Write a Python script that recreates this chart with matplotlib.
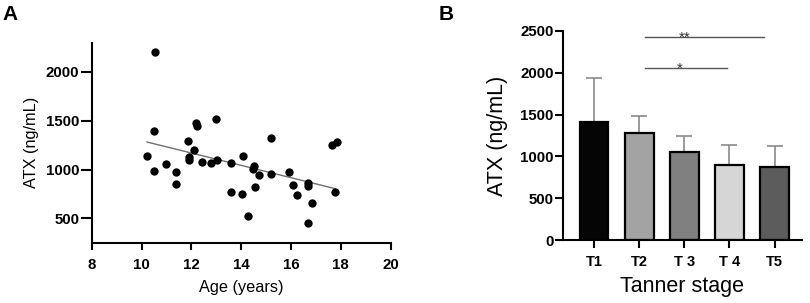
import numpy as np
import matplotlib
matplotlib.use("Agg")
import matplotlib.pyplot as plt

plt.rcParams['font.family'] = ['Liberation Sans', 'DejaVu Sans']

# Panel A data: age (years) vs ATX (ng/mL)
age = [10.56, 10.50, 10.22, 10.50, 11.00, 11.37, 11.38, 11.88, 11.90, 11.92,
       12.09, 12.19, 12.21, 12.41, 13.00, 12.80, 13.02, 13.58, 13.58, 14.03,
       14.07, 14.26, 14.46, 14.53, 14.55, 14.73, 15.18, 15.18, 15.91, 16.09,
       16.24, 16.70, 16.70, 16.86, 16.70, 17.63, 17.83, 17.78]
atx = [2200, 1390, 1140, 980, 1060, 970, 855, 1295, 1100, 1133,
       1200, 1481, 1446, 1077, 1515, 1068, 1095, 1071, 773, 745,
       1143, 520, 1002, 1040, 821, 944, 1323, 958, 972, 838,
       736, 866, 832, 661, 452, 1255, 1283, 770]
fit_x = [10.22, 17.77]
fit_y = [1282, 804]

# Panel B data
stages = ["T1", "T2", "T 3", "T 4", "T5"]
means = [1415, 1276, 1049, 901, 877]
sds = [527, 211, 191, 235, 251]
bar_colors = ["#050505", "#a3a3a3", "#808080", "#d6d6d6", "#5c5c5c"]

fig = plt.figure(figsize=(8.10, 3.03), dpi=100)

# ---------- Panel A ----------
axA = fig.add_axes([91.7/810, 1-242.7/303, (390.7-91.7)/810, (242.7-42.7)/303])
axA.scatter(age, atx, s=36, color="black", zorder=3, linewidths=0)
axA.plot(fit_x, fit_y, color="#707070", lw=1.0, zorder=2)
axA.set_xlim(8, 20)
axA.set_ylim(250, 2300)
axA.set_xticks([8, 10, 12, 14, 16, 18, 20])
axA.set_yticks([500, 1000, 1500, 2000])
for s in ["top", "right"]:
    axA.spines[s].set_visible(False)
for s in ["left", "bottom"]:
    axA.spines[s].set_linewidth(1.5)
axA.tick_params(axis="x", length=5, width=1.5, pad=6, labelsize=10.8)
axA.tick_params(axis="y", length=8, width=1.5, pad=1, labelsize=10.8)
for lab in axA.get_xticklabels() + axA.get_yticklabels():
    lab.set_fontweight("bold")
axA.set_xlabel("Age (years)", fontsize=11.7, labelpad=6)
axA.set_ylabel("ATX (ng/mL)", fontsize=11.7, labelpad=5)

# ---------- Panel B ----------
axB = fig.add_axes([563.3/810, 1-240/303, (801.7-563.3)/810, (240-31)/303])
xpos = np.arange(len(stages))
axB.bar(xpos, means, width=0.64, color=bar_colors, edgecolor="black",
        linewidth=1.6, zorder=2)
axB.errorbar(xpos, means, yerr=[[0]*len(sds), sds], fmt="none",
             ecolor="#8a8a8a", elinewidth=1.2, capsize=5.5, capthick=1.2, zorder=1)
axB.set_xlim(-0.68, 4.6)
axB.set_ylim(0, 2500)
axB.set_xticks(xpos)
axB.set_xticklabels(stages)
axB.set_yticks([0, 500, 1000, 1500, 2000, 2500])
for s in ["top", "right"]:
    axB.spines[s].set_visible(False)
for s in ["left", "bottom"]:
    axB.spines[s].set_linewidth(1.5)
axB.tick_params(axis="x", length=6, width=1.5, pad=5, labelsize=10.5)
axB.tick_params(axis="y", length=6, width=1.5, pad=1, labelsize=10.8)
for lab in axB.get_xticklabels() + axB.get_yticklabels():
    lab.set_fontweight("bold")
axB.set_xlabel("Tanner stage", fontsize=15.5, labelpad=5)
axB.set_ylabel("ATX (ng/mL)", fontsize=15.5, labelpad=9)

# significance
axB.plot([1.13, 3.76], [2432, 2432], color="#555555", lw=1.0, clip_on=False)
axB.text(2.0, 2420, "**", ha="center", va="center", fontsize=11, color="#333333")
axB.plot([1.13, 2.94], [2061, 2061], color="#555555", lw=1.0, clip_on=False)
axB.text(1.9, 2049, "*", ha="center", va="center", fontsize=11, color="#333333")

# panel letters
fig.text(2.5/810, 1-5/303, "A", fontsize=15, fontweight="bold", va="top", ha="left")
fig.text(438.5/810, 1-5/303, "B", fontsize=15, fontweight="bold", va="top", ha="left")

fig.savefig("out.png", dpi=100)
